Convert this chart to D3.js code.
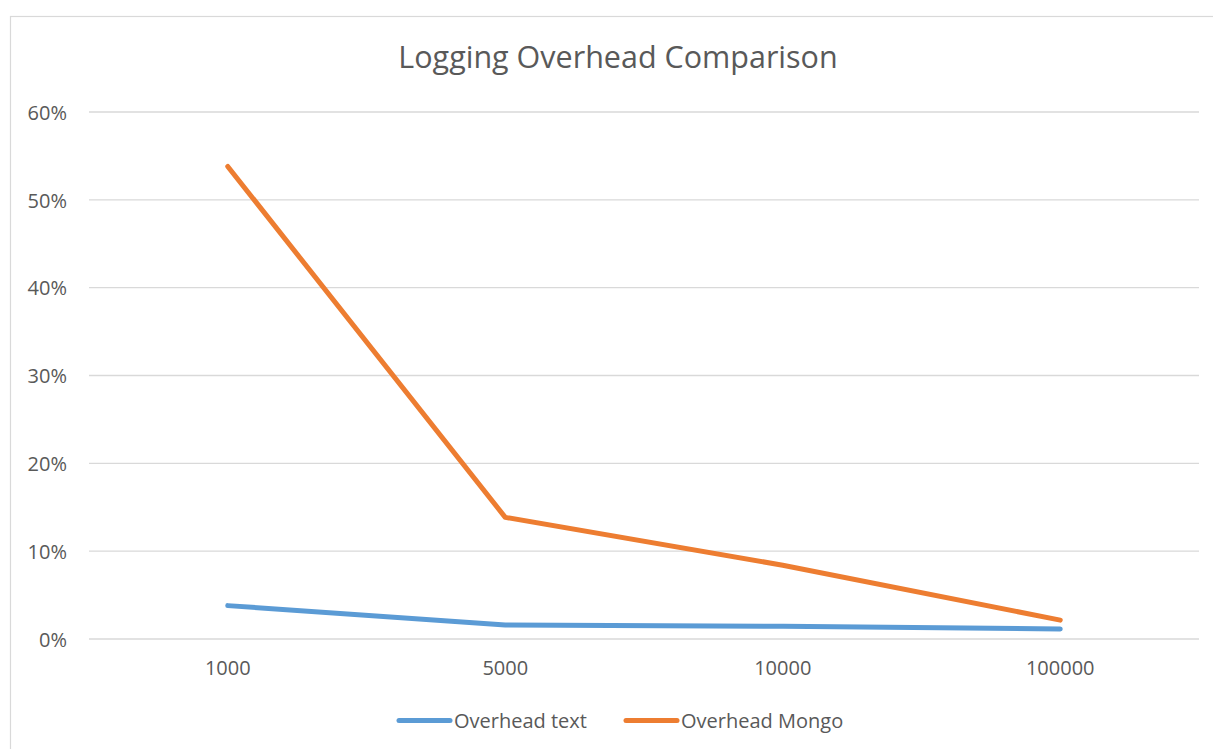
<!DOCTYPE html>
<html>
<head>
<meta charset="utf-8">
<script src="https://cdn.jsdelivr.net/npm/d3@7"></script>
<style>
  html, body { margin: 0; padding: 0; background: #fff; }
  svg { display: block; }
  text { font-family: "Open Sans", "DejaVu Sans", sans-serif; fill: #595959; }
</style>
</head>
<body>
<svg id="chart" width="1213" height="749"></svg>
<script>
// Record counts per run
const categories = ["1000", "5000", "10000", "100000"];
// Logging overhead, as fractions
const overheadText  = [0.038, 0.016, 0.0145, 0.0115];
const overheadMongo = [0.538, 0.1385, 0.084, 0.0215];
const yTicks = [0, 0.1, 0.2, 0.3, 0.4, 0.5, 0.6];

const series = [
  { name: "Overhead text",  values: overheadText,  color: "#5B9BD5" },
  { name: "Overhead Mongo", values: overheadMongo, color: "#ED7D31" }
];

const svg = d3.select("#chart");
const W = 1213, H = 749;
const plot = { left: 89, right: 1199, top: 112, bottom: 639 };

// Outer chart frame
svg.append("rect")
  .attr("x", 10.5).attr("y", 16.5)
  .attr("width", W + 20).attr("height", H + 20)
  .attr("fill", "#fff").attr("stroke", "#d9d9d9").attr("stroke-width", 1.2);

const x = d3.scaleBand().domain(categories).range([plot.left, plot.right]).padding(0);
const y = d3.scaleLinear().domain([0, 0.6]).range([plot.bottom, plot.top]);

// Gridlines
svg.append("g")
  .selectAll("line")
  .data(yTicks)
  .join("line")
  .attr("x1", plot.left).attr("x2", plot.right)
  .attr("y1", d => y(d)).attr("y2", d => y(d))
  .attr("stroke", "#d9d9d9").attr("stroke-width", 1.3);

// Y axis labels
const yAxis = d3.axisLeft(y).tickValues(yTicks).tickFormat(d3.format(".0%")).tickSize(0).tickPadding(0);
const gy = svg.append("g").attr("transform", `translate(${plot.left - 22},0)`).call(yAxis);
gy.select(".domain").remove();
gy.selectAll("text")
  .attr("font-size", 20).attr("font-family", null).attr("fill", "#595959")
  .attr("dy", "0.36em");

// X axis labels
const xAxis = d3.axisBottom(x).tickSize(0).tickPadding(0);
const gx = svg.append("g").attr("transform", `translate(0,${plot.bottom + 36})`).call(xAxis);
gx.select(".domain").remove();
gx.selectAll("text")
  .attr("font-size", 20).attr("font-family", null).attr("fill", "#595959")
  .attr("dy", 0).attr("y", 0);

// Lines
const line = d3.line()
  .x((d, i) => x(categories[i]) + x.bandwidth() / 2)
  .y(d => y(d));

svg.append("g")
  .selectAll("path")
  .data(series)
  .join("path")
  .attr("d", d => line(d.values))
  .attr("fill", "none")
  .attr("stroke", d => d.color)
  .attr("stroke-width", 5)
  .attr("stroke-linecap", "round")
  .attr("stroke-linejoin", "round");

// Title
svg.append("text")
  .attr("x", 618).attr("y", 68)
  .attr("text-anchor", "middle")
  .attr("font-size", 30.5)
  .text("Logging Overhead Comparison");

// Legend
const legendY = 720.5;
const legendItems = [
  { s: series[0], x0: 399, x1: 450, tx: 454 },
  { s: series[1], x0: 626, x1: 677, tx: 681 }
];
const lg = svg.append("g");
legendItems.forEach(item => {
  lg.append("line")
    .attr("x1", item.x0).attr("x2", item.x1)
    .attr("y1", legendY).attr("y2", legendY)
    .attr("stroke", item.s.color).attr("stroke-width", 5)
    .attr("stroke-linecap", "round");
  lg.append("text")
    .attr("x", item.tx).attr("y", legendY)
    .attr("dy", "0.36em")
    .attr("font-size", 20)
    .text(item.s.name);
});
</script>
</body>
</html>
